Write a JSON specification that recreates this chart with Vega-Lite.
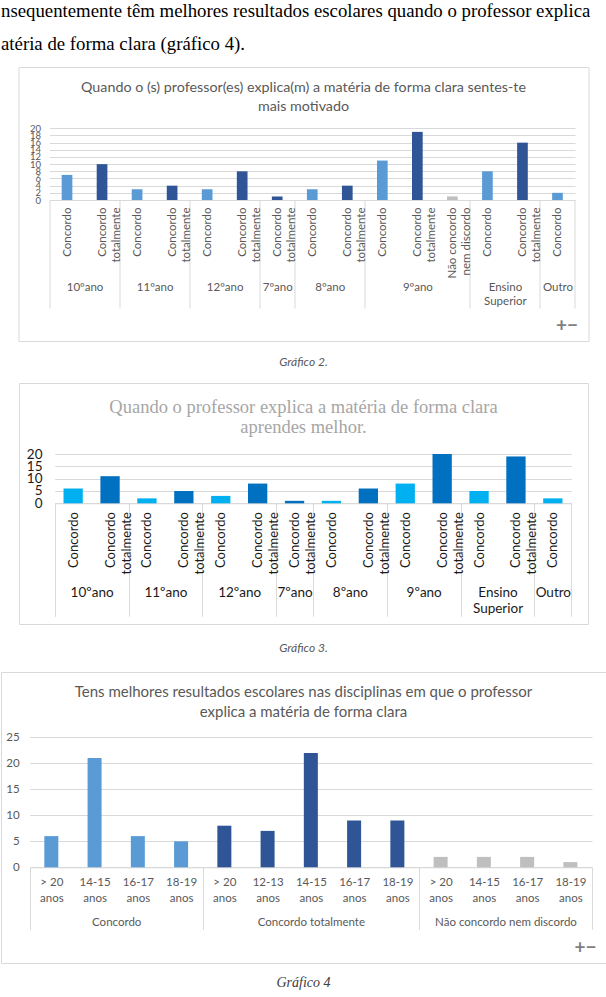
{
  "$schema": "https://vega.github.io/schema/vega-lite/v6.json",
  "padding": 0,
  "background": "white",
  "config": {"view": {"stroke": null}, "font": "Lato"},
  "datasets": {
    "g2": [
      {"id": "10ºano|Concordo", "ano": "10ºano", "resposta": "Concordo", "n": 7},
      {"id": "10ºano|Concordo totalmente", "ano": "10ºano", "resposta": "Concordo totalmente", "n": 10},
      {"id": "11ºano|Concordo", "ano": "11ºano", "resposta": "Concordo", "n": 3},
      {"id": "11ºano|Concordo totalmente", "ano": "11ºano", "resposta": "Concordo totalmente", "n": 4},
      {"id": "12ºano|Concordo", "ano": "12ºano", "resposta": "Concordo", "n": 3},
      {"id": "12ºano|Concordo totalmente", "ano": "12ºano", "resposta": "Concordo totalmente", "n": 8},
      {"id": "7ºano|Concordo totalmente", "ano": "7ºano", "resposta": "Concordo totalmente", "n": 1},
      {"id": "8ºano|Concordo", "ano": "8ºano", "resposta": "Concordo", "n": 3},
      {"id": "8ºano|Concordo totalmente", "ano": "8ºano", "resposta": "Concordo totalmente", "n": 4},
      {"id": "9ºano|Concordo", "ano": "9ºano", "resposta": "Concordo", "n": 11},
      {"id": "9ºano|Concordo totalmente", "ano": "9ºano", "resposta": "Concordo totalmente", "n": 19},
      {"id": "9ºano|Não concordo nem discordo", "ano": "9ºano", "resposta": "Não concordo nem discordo", "n": 1},
      {"id": "Ensino Superior|Concordo", "ano": "Ensino Superior", "resposta": "Concordo", "n": 8},
      {"id": "Ensino Superior|Concordo totalmente", "ano": "Ensino Superior", "resposta": "Concordo totalmente", "n": 16},
      {"id": "Outro|Concordo", "ano": "Outro", "resposta": "Concordo", "n": 2}
    ],
    "g3": [
      {"id": "10ºano|Concordo", "ano": "10ºano", "resposta": "Concordo", "n": 6},
      {"id": "10ºano|Concordo totalmente", "ano": "10ºano", "resposta": "Concordo totalmente", "n": 11},
      {"id": "11ºano|Concordo", "ano": "11ºano", "resposta": "Concordo", "n": 2},
      {"id": "11ºano|Concordo totalmente", "ano": "11ºano", "resposta": "Concordo totalmente", "n": 5},
      {"id": "12ºano|Concordo", "ano": "12ºano", "resposta": "Concordo", "n": 3},
      {"id": "12ºano|Concordo totalmente", "ano": "12ºano", "resposta": "Concordo totalmente", "n": 8},
      {"id": "7ºano|Concordo totalmente", "ano": "7ºano", "resposta": "Concordo totalmente", "n": 1},
      {"id": "8ºano|Concordo", "ano": "8ºano", "resposta": "Concordo", "n": 1},
      {"id": "8ºano|Concordo totalmente", "ano": "8ºano", "resposta": "Concordo totalmente", "n": 6},
      {"id": "9ºano|Concordo", "ano": "9ºano", "resposta": "Concordo", "n": 8},
      {"id": "9ºano|Concordo totalmente", "ano": "9ºano", "resposta": "Concordo totalmente", "n": 20},
      {"id": "Ensino Superior|Concordo", "ano": "Ensino Superior", "resposta": "Concordo", "n": 5},
      {"id": "Ensino Superior|Concordo totalmente", "ano": "Ensino Superior", "resposta": "Concordo totalmente", "n": 19},
      {"id": "Outro|Concordo", "ano": "Outro", "resposta": "Concordo", "n": 2}
    ],
    "g4": [
      {"id": "Concordo|> 20 anos", "resposta": "Concordo", "idade": "> 20 anos", "n": 6},
      {"id": "Concordo|14-15 anos", "resposta": "Concordo", "idade": "14-15 anos", "n": 21},
      {"id": "Concordo|16-17 anos", "resposta": "Concordo", "idade": "16-17 anos", "n": 6},
      {"id": "Concordo|18-19 anos", "resposta": "Concordo", "idade": "18-19 anos", "n": 5},
      {"id": "Concordo totalmente|> 20 anos", "resposta": "Concordo totalmente", "idade": "> 20 anos", "n": 8},
      {"id": "Concordo totalmente|12-13 anos", "resposta": "Concordo totalmente", "idade": "12-13 anos", "n": 7},
      {"id": "Concordo totalmente|14-15 anos", "resposta": "Concordo totalmente", "idade": "14-15 anos", "n": 22},
      {"id": "Concordo totalmente|16-17 anos", "resposta": "Concordo totalmente", "idade": "16-17 anos", "n": 9},
      {"id": "Concordo totalmente|18-19 anos", "resposta": "Concordo totalmente", "idade": "18-19 anos", "n": 9},
      {"id": "Não concordo nem discordo|> 20 anos", "resposta": "Não concordo nem discordo", "idade": "> 20 anos", "n": 2},
      {"id": "Não concordo nem discordo|14-15 anos", "resposta": "Não concordo nem discordo", "idade": "14-15 anos", "n": 2},
      {"id": "Não concordo nem discordo|16-17 anos", "resposta": "Não concordo nem discordo", "idade": "16-17 anos", "n": 2},
      {"id": "Não concordo nem discordo|18-19 anos", "resposta": "Não concordo nem discordo", "idade": "18-19 anos", "n": 1}
    ]
  },
  "spacing": 0,
  "bounds": "flush",
  "center": true,
  "resolve": {"scale": {"color": "independent"}},
  "vconcat": [
    {
      "width": 605, "height": 67,
      "data": {"values": [{}]},
      "mark": {"type": "text"},
      "encoding": {"text": {"value": ""}},
      "title": {"text": ["nsequentemente  têm  melhores  resultados  escolares  quando  o  professor  explica", "atéria de forma clara (gráfico 4)."], "anchor": "start", "frame": "group", "orient": "top", "offset": -54, "baseline": "top", "font": "Liberation Serif", "fontSize": 18.8, "fontWeight": "normal", "color": "#000000", "lineHeight": 33}
    },
    {
      "width": 570, "height": 274,
      "view": {"stroke": "#D9D9D9"},
      "data": {"name": "g2"},
      "title": {"text": ["Quando o (s) professor(es) explica(m) a matéria de forma clara sentes-te", "mais motivado"], "anchor": "middle", "frame": "group", "orient": "top", "offset": -47, "font": "Lato", "fontSize": 14.3, "fontWeight": "normal", "color": "#595959", "lineHeight": 19},
      "encoding": {
        "y": {"field": "n", "type": "quantitative", "scale": {"domain": [0, 20], "range": [133, 61.3], "nice": false, "zero": true},
          "axis": {"orient": "left", "offset": -31, "values": [0, 2, 4, 6, 8, 10, 12, 14, 16, 18, 20], "domain": false, "ticks": false, "labelPadding": 9, "labelFont": "Lato", "labelFontSize": 9.5, "labelColor": "#595959", "labelOverlap": false, "labelFlush": false, "grid": true, "gridColor": "#D9D9D9", "title": null}},
        "color": {"field": "resposta", "type": "nominal", "scale": {"domain": ["Concordo", "Concordo totalmente", "Não concordo nem discordo"], "range": ["#5B9BD5", "#2F5597", "#BFBFBF"]}, "legend": null}
      },
      "layer": [
        {"mark": {"type": "bar"},
         "encoding": {"x": {"field": "id", "type": "nominal", "sort": null,
           "scale": {"range": [31, 556.5], "paddingInner": 0.695, "paddingOuter": 0.3475},
           "axis": {"orient": "bottom", "offset": -141, "title": null, "grid": false,
             "labelExpr": "split(datum.value,'|')[1] == 'Concordo totalmente' ? ['Concordo','totalmente'] : (split(datum.value,'|')[1] == 'Não concordo nem discordo' ? ['Não concordo','nem discordo'] : split(datum.value,'|')[1])",
             "labelAngle": 270, "labelAlign": "right", "labelBaseline": "middle", "labelFont": "Lato", "labelFontSize": 11.5, "labelColor": "#595959", "labelLineHeight": 14.3, "labelPadding": -101, "labelOverlap": false, "labelBound": false, "labelOffset": 12.17,
             "domainColor": "#D9D9D9", "bandPosition": 0, "tickOffset": -12.17, "tickSize": 108, "tickColor": "#D9D9D9",
             "tickOpacity": {"condition": {"test": "indexof(['10ºano|Concordo','11ºano|Concordo','12ºano|Concordo','7ºano|Concordo totalmente','8ºano|Concordo','9ºano|Concordo','Ensino Superior|Concordo','Outro|Concordo'], datum.value) >= 0", "value": 1}, "value": 0}}}}},
        {"mark": {"type": "bar", "opacity": 0},
         "encoding": {"x": {"field": "id", "type": "nominal", "sort": null,
           "scale": {"range": [31, 556.5], "paddingInner": 0.695, "paddingOuter": 0.3475},
           "axis": {"orient": "bottom", "offset": -141, "grid": false, "domain": false,
             "values": ["10ºano|Concordo", "11ºano|Concordo", "12ºano|Concordo", "7ºano|Concordo totalmente", "8ºano|Concordo", "9ºano|Concordo totalmente", "Ensino Superior|Concordo", "Outro|Concordo"],
             "labelExpr": "split(datum.value,'|')[0] == 'Ensino Superior' ? ['Ensino','Superior'] : split(datum.value,'|')[0]",
             "labelAngle": 0, "labelAlign": "center", "labelBaseline": "top", "labelFont": "Lato", "labelFontSize": 11.5, "labelColor": "#595959", "labelLineHeight": 14, "labelPadding": -27, "labelOverlap": false, "labelBound": false,
             "labelOffset": {"condition": {"test": "indexof(['10ºano|Concordo','11ºano|Concordo','12ºano|Concordo','8ºano|Concordo','Ensino Superior|Concordo'], datum.value) >= 0", "value": 5.35}, "value": -12.17},
             "bandPosition": 1, "tickOffset": 12.17, "tickSize": 108, "tickColor": "#D9D9D9",
             "tickOpacity": {"condition": {"test": "datum.value == 'Outro|Concordo'", "value": 1}, "value": 0},
             "title": "+−", "titleX": 559, "titleY": 125, "titleAlign": "right", "titleBaseline": "middle", "titleFont": "Lato", "titleFontSize": 19, "titleFontWeight": "bold", "titleColor": "#7F7F7F"}}}}
      ],
      "resolve": {"axis": {"x": "independent"}}
    },
    {
      "width": 605, "height": 42,
      "data": {"values": [{"legenda": "Gráfico 2."}]},
      "mark": {"type": "text", "font": "Lato", "fontStyle": "italic", "fontSize": 12, "color": "#595959"},
      "encoding": {"text": {"field": "legenda"}}
    },
    {
      "width": 569, "height": 241,
      "view": {"stroke": "#D9D9D9"},
      "data": {"name": "g3"},
      "title": {"text": ["Quando o professor explica a matéria de forma clara", "aprendes melhor."], "anchor": "middle", "frame": "group", "orient": "top", "offset": -54, "font": "Liberation Serif", "fontSize": 18.5, "fontWeight": "normal", "color": "#A6A6A6", "lineHeight": 20.7},
      "encoding": {
        "y": {"field": "n", "type": "quantitative", "scale": {"domain": [0, 20], "range": [120.3, 71], "nice": false, "zero": true},
          "axis": {"orient": "left", "offset": -35.7, "values": [0, 5, 10, 15, 20], "domain": false, "ticks": false, "labelPadding": 12.7, "labelFont": "Lato", "labelFontSize": 13.5, "labelColor": "#1A1A1A", "labelOverlap": false, "labelFlush": false, "grid": true, "gridColor": "#D9D9D9", "title": null}},
        "color": {"field": "resposta", "type": "nominal", "scale": {"domain": ["Concordo", "Concordo totalmente"], "range": ["#00B0F0", "#0070C0"]}, "legend": null}
      },
      "layer": [
        {"mark": {"type": "bar"},
         "encoding": {"x": {"field": "id", "type": "nominal", "sort": null,
           "scale": {"range": [35.7, 552.3], "paddingInner": 0.477, "paddingOuter": 0.2385},
           "axis": {"orient": "bottom", "offset": -120.7, "title": null, "grid": false,
             "labelExpr": "split(datum.value,'|')[1] == 'Concordo totalmente' ? ['Concordo','totalmente'] : split(datum.value,'|')[1]",
             "labelAngle": 270, "labelAlign": "right", "labelBaseline": "middle", "labelFont": "Lato", "labelFontSize": 13, "labelColor": "#1A1A1A", "labelLineHeight": 16, "labelPadding": -104.6, "labelOverlap": false, "labelBound": false, "labelOffset": 8.8,
             "domainColor": "#D9D9D9", "bandPosition": 0, "tickOffset": -8.8, "tickSize": 113, "tickColor": "#D9D9D9",
             "tickOpacity": {"condition": {"test": "indexof(['10ºano|Concordo','11ºano|Concordo','12ºano|Concordo','7ºano|Concordo totalmente','8ºano|Concordo','9ºano|Concordo','Ensino Superior|Concordo','Outro|Concordo'], datum.value) >= 0", "value": 1}, "value": 0}}}}},
        {"mark": {"type": "bar", "opacity": 0},
         "encoding": {"x": {"field": "id", "type": "nominal", "sort": null,
           "scale": {"range": [35.7, 552.3], "paddingInner": 0.477, "paddingOuter": 0.2385},
           "axis": {"orient": "bottom", "offset": -120.7, "title": null, "grid": false, "domain": false,
             "values": ["10ºano|Concordo", "11ºano|Concordo", "12ºano|Concordo", "7ºano|Concordo totalmente", "8ºano|Concordo", "9ºano|Concordo", "Ensino Superior|Concordo", "Outro|Concordo"],
             "labelExpr": "split(datum.value,'|')[0] == 'Ensino Superior' ? ['Ensino','Superior'] : split(datum.value,'|')[0]",
             "labelAngle": 0, "labelAlign": "center", "labelBaseline": "top", "labelFont": "Lato", "labelFontSize": 13.5, "labelColor": "#1A1A1A", "labelLineHeight": 16.3, "labelPadding": -31.3, "labelOverlap": false, "labelBound": false,
             "labelOffset": {"condition": {"test": "indexof(['10ºano|Concordo','11ºano|Concordo','12ºano|Concordo','8ºano|Concordo','9ºano|Concordo','Ensino Superior|Concordo'], datum.value) >= 0", "value": 9.65}, "value": -8.8},
             "bandPosition": 1, "tickOffset": 8.8, "tickSize": 113, "tickColor": "#D9D9D9",
             "tickOpacity": {"condition": {"test": "datum.value == 'Outro|Concordo'", "value": 1}, "value": 0}}}}}
      ],
      "resolve": {"axis": {"x": "independent"}}
    },
    {
      "width": 605, "height": 48,
      "data": {"values": [{"legenda": "Gráfico 3."}]},
      "mark": {"type": "text", "font": "Lato", "fontStyle": "italic", "fontSize": 12, "color": "#595959"},
      "encoding": {"text": {"field": "legenda"}}
    },
    {
      "width": 605, "height": 291,
      "view": {"stroke": "#D9D9D9"},
      "data": {"name": "g4"},
      "title": {"text": ["Tens melhores resultados escolares nas disciplinas em que o professor", "explica a matéria de forma clara"], "anchor": "middle", "frame": "group", "orient": "top", "offset": -48, "font": "Lato", "fontSize": 15, "fontWeight": "normal", "color": "#595959", "lineHeight": 20},
      "encoding": {
        "y": {"field": "n", "type": "quantitative", "scale": {"domain": [0, 25], "range": [195.3, 65.3], "nice": false, "zero": true},
          "axis": {"orient": "left", "offset": -28.7, "values": [0, 5, 10, 15, 20, 25], "domain": false, "ticks": false, "labelPadding": 10.5, "labelFont": "Lato", "labelFontSize": 11.5, "labelColor": "#595959", "labelOverlap": false, "labelFlush": false, "grid": true, "gridColor": "#D9D9D9", "title": null}},
        "color": {"field": "resposta", "type": "nominal", "scale": {"domain": ["Concordo", "Concordo totalmente", "Não concordo nem discordo"], "range": ["#5B9BD5", "#2F5597", "#BFBFBF"]}, "legend": null}
      },
      "layer": [
        {"mark": {"type": "bar"},
         "encoding": {"x": {"field": "id", "type": "nominal", "sort": null,
           "scale": {"range": [28.7, 591], "paddingInner": 0.676, "paddingOuter": 0.338},
           "axis": {"orient": "bottom", "offset": -95.7, "title": null, "grid": false,
             "labelExpr": "[slice(split(datum.value,'|')[1], 0, -5), 'anos']",
             "labelAngle": 0, "labelAlign": "center", "labelBaseline": "top", "labelFont": "Lato", "labelFontSize": 11.5, "labelColor": "#595959", "labelLineHeight": 15.7, "labelPadding": -52.5, "labelOverlap": false, "labelBound": false, "labelOffset": 14.62,
             "domainColor": "#D9D9D9", "bandPosition": 0, "tickOffset": -14.62, "tickSize": 62, "tickColor": "#D9D9D9",
             "tickOpacity": {"condition": {"test": "indexof(['Concordo|> 20 anos','Concordo totalmente|> 20 anos','Não concordo nem discordo|> 20 anos'], datum.value) >= 0", "value": 1}, "value": 0}}}}},
        {"mark": {"type": "bar", "opacity": 0},
         "encoding": {"x": {"field": "id", "type": "nominal", "sort": null,
           "scale": {"range": [28.7, 591], "paddingInner": 0.676, "paddingOuter": 0.338},
           "axis": {"orient": "bottom", "offset": -95.7, "grid": false, "domain": false,
             "values": ["Concordo|14-15 anos", "Concordo totalmente|14-15 anos", "Não concordo nem discordo|14-15 anos", "Não concordo nem discordo|18-19 anos"],
             "labelExpr": "datum.value == 'Não concordo nem discordo|18-19 anos' ? '' : split(datum.value,'|')[0]",
             "labelAngle": 0, "labelAlign": "center", "labelBaseline": "top", "labelFont": "Lato", "labelFontSize": 11.5, "labelColor": "#595959", "labelPadding": -13.3, "labelOverlap": false, "labelBound": false,
             "labelOffset": {"condition": {"test": "indexof(['Concordo|14-15 anos','Não concordo nem discordo|14-15 anos'], datum.value) >= 0", "value": 7.01}, "value": -14.62},
             "bandPosition": 1, "tickOffset": 14.62, "tickSize": 62, "tickColor": "#D9D9D9",
             "tickOpacity": {"condition": {"test": "datum.value == 'Não concordo nem discordo|18-19 anos'", "value": 1}, "value": 0},
             "title": "+−", "titleX": 595, "titleY": 80, "titleAlign": "right", "titleBaseline": "middle", "titleFont": "Lato", "titleFontSize": 19, "titleFontWeight": "bold", "titleColor": "#7F7F7F"}}}}
      ],
      "resolve": {"axis": {"x": "independent"}}
    },
    {
      "width": 605, "height": 40,
      "data": {"values": [{"legenda": "Gráfico 4"}]},
      "mark": {"type": "text", "font": "Liberation Serif", "fontStyle": "italic", "fontSize": 14, "color": "#404040"},
      "encoding": {"text": {"field": "legenda"}}
    }
  ]
}
